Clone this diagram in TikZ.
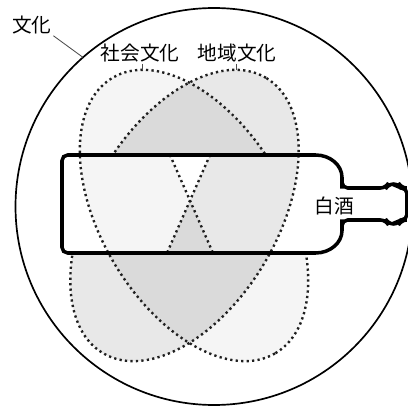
\documentclass[tikz,border=0pt]{standalone}
\usepackage{fontspec}
\usepackage{xcolor}
\newfontfamily\jfont{Noto Sans CJK JP}
\definecolor{socfill}{gray}{0.96}
\definecolor{regfill}{gray}{0.91}
\definecolor{ambfill}{gray}{0.855}
\definecolor{traco}{gray}{0.12}

% elipses e contorno da garrafa (unidades = px)
\newcommand{\elipsoc}{(194,192.5) ellipse [x radius=160, y radius=93]}
\newcommand{\elipreg}{(184.5,192.5) ellipse [x radius=160, y radius=93]}
\newcommand{\garrafa}{(342,225) .. controls (342,243) and (330,253) .. (310,253)
  -- (62,253) -- (62,155) -- (310,155)
  .. controls (330,155) and (342,165) .. (342,183)
  -- (342,188) -- (386,188) -- (388,184) -- (399,184) -- (401,188)
  -- (407,188) -- (407,220) -- (401,220) -- (399,224) -- (388,224)
  -- (386,220) -- (342,220) -- cycle}

\begin{document}
\begin{tikzpicture}[x=0.25mm, y=0.25mm,
    rotulo/.style={font=\jfont\fontsize{14}{16}\selectfont, inner sep=1pt},
    pontilhado/.style={draw=traco, line width=1.7pt, dash pattern=on 1.6pt off 2.3pt},
    guia/.style={draw=black!70, line width=0.6pt},
    rotsoc/.style={rotate around={-59.4:(194,192.5)}},
    rotreg/.style={rotate around={59.4:(184.5,192.5)}}]
  \useasboundingbox[fill=white] (0,0) rectangle (408,408);

  % Circulo externo - cultura
  \coordinate (centro) at (214,201.5);
  \draw[line width=1.2pt] (centro) circle [radius=198.5];

  % Duas elipses (fora da garrafa)
  \fill[socfill, rotsoc] \elipsoc;
  \fill[regfill, rotreg] \elipreg;
  \begin{scope}
    \clip[rotsoc] \elipsoc;
    \fill[ambfill, rotreg] \elipreg;
  \end{scope}
  \draw[pontilhado, rotsoc] \elipsoc;
  \draw[pontilhado, rotreg] \elipreg;

  % Interior da garrafa
  \coordinate (xa) at (170,253);
  \coordinate (xb) at (210,253);
  \coordinate (xm) at (190,207.4);
  \coordinate (xc) at (167,155);
  \coordinate (xd) at (213,155);
  \fill[white] \garrafa;
  \begin{scope}
    \clip (62,155) rectangle (342,253);
    \begin{scope}
      \clip (62,253) -- (xa) -- (xm) -- (xc) -- (62,155) -- cycle;
      \fill[socfill, rotsoc] \elipsoc;
    \end{scope}
    \begin{scope}
      \clip (xb) -- (342,253) -- (342,155) -- (xd) -- (xm) -- cycle;
      \fill[regfill, rotreg] \elipreg;
    \end{scope}
    \fill[ambfill] (xc) -- (xd) -- (xm) -- cycle;
    \draw[pontilhado] (xa) -- (xd);
    \draw[pontilhado] (xb) -- (xc);
    \begin{scope}
      \clip (0,0) rectangle (xm |- 0,408);
      \draw[pontilhado, rotsoc] \elipsoc;
    \end{scope}
    \begin{scope}
      \clip (xm |- 0,0) rectangle (408,408);
      \draw[pontilhado, rotreg] \elipreg;
    \end{scope}
  \end{scope}
  \draw[line width=2.5pt, rounded corners=4] \garrafa;

  % Rotulos
  \node at (32,383) (cult) [rotulo] {文化};
  \node at (140,355) (soc) [rotulo] {社会文化};
  \node at (237,355) (reg) [rotulo] {地域文化};
  \node at (334,202) (baijiu) [rotulo] {白酒};

  % Linhas guia
  \coordinate (pcirc) at ([shift={(centro)}]131.3:198.5);
  \coordinate (socTopo) at (142,338);
  \coordinate (regTopo) at (236,338);
  \draw[guia] (cult.south east) -- (pcirc);
  \draw[guia] (soc.south -| socTopo) -- (socTopo);
  \draw[guia] (reg.south -| regTopo) -- (regTopo);
\end{tikzpicture}
\end{document}
